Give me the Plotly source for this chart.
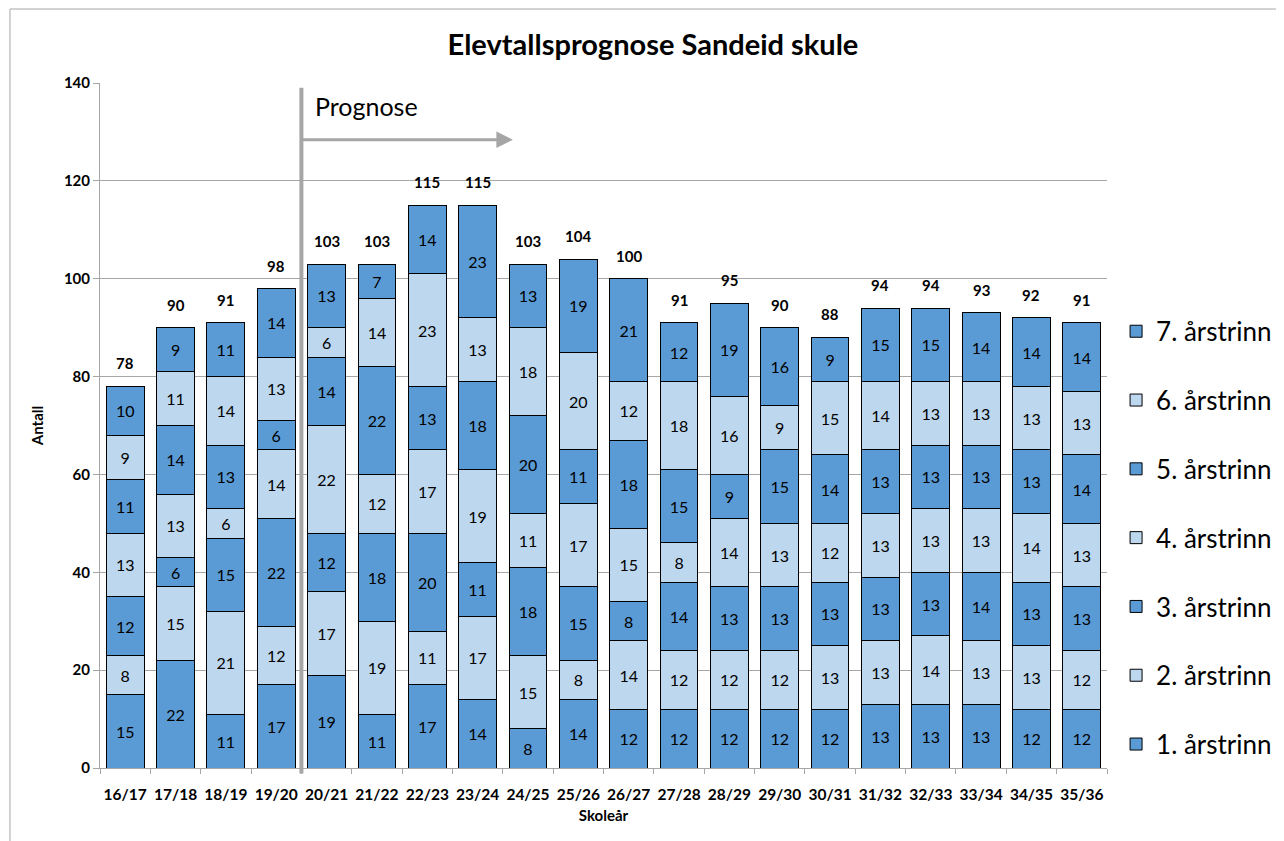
import plotly.graph_objects as go

categories = ["16/17", "17/18", "18/19", "19/20", "20/21", "21/22", "22/23", "23/24", "24/25", "25/26",
              "26/27", "27/28", "28/29", "29/30", "30/31", "31/32", "32/33", "33/34", "34/35", "35/36"]

trinn1 = [15, 22, 11, 17, 19, 11, 17, 14, 8, 14, 12, 12, 12, 12, 12, 13, 13, 13, 12, 12]
trinn2 = [8, 15, 21, 12, 17, 19, 11, 17, 15, 8, 14, 12, 12, 12, 13, 13, 14, 13, 13, 12]
trinn3 = [12, 6, 15, 22, 12, 18, 20, 11, 18, 15, 8, 14, 13, 13, 13, 13, 13, 14, 13, 13]
trinn4 = [13, 13, 6, 14, 22, 12, 17, 19, 11, 17, 15, 8, 14, 13, 12, 13, 13, 13, 14, 13]
trinn5 = [11, 14, 13, 6, 14, 22, 13, 18, 20, 11, 18, 15, 9, 15, 14, 13, 13, 13, 13, 14]
trinn6 = [9, 11, 14, 13, 6, 14, 23, 13, 18, 20, 12, 18, 16, 9, 15, 14, 13, 13, 13, 13]
trinn7 = [10, 9, 11, 14, 13, 7, 14, 23, 13, 19, 21, 12, 19, 16, 9, 15, 15, 14, 14, 14]
totals = [78, 90, 91, 98, 103, 103, 115, 115, 103, 104, 100, 91, 95, 90, 88, 94, 94, 93, 92, 91]

series = [
    ("1. årstrinn", trinn1),
    ("2. årstrinn", trinn2),
    ("3. årstrinn", trinn3),
    ("4. årstrinn", trinn4),
    ("5. årstrinn", trinn5),
    ("6. årstrinn", trinn6),
    ("7. årstrinn", trinn7),
]

DARK = "#5B9BD5"
LIGHT = "#BDD7EE"
GRAY = "#A6A6A6"
FONT = "Lato, 'Open Sans', sans-serif"

fig = go.Figure()
for i, (name, vals) in enumerate(series):
    fig.add_trace(go.Bar(
        x=categories, y=vals, name=name,
        marker=dict(color=DARK if i % 2 == 0 else LIGHT, line=dict(color="black", width=1)),
        text=vals, textposition="inside", insidetextanchor="middle", textangle=0,
        textfont=dict(family=FONT, size=16, color="black"),
        legendgroup=name, legendrank=len(series) - i,
    ))

for c, t in zip(categories, totals):
    fig.add_annotation(x=c, y=t, xref="x", yref="y", text=f"<b>{t}</b>", showarrow=False,
                       yanchor="bottom", yshift=12,
                       font=dict(family=FONT, size=15, color="black"))

fig.update_layout(
    width=1284, height=841,
    barmode="stack", bargap=0.25,
    paper_bgcolor="white", plot_bgcolor="white",
    margin=dict(l=92, r=185, t=75, b=81),
    title=dict(text="<b>Elevtallsprognose Sandeid skule</b>", x=0.5023, xanchor="center",
               y=0.956, yanchor="middle", font=dict(family=FONT, size=29, color="black")),
    legend=dict(traceorder="grouped", tracegroupgap=32, x=1.009, xanchor="left",
                y=0.336, yanchor="middle", font=dict(family=FONT, size=26, color="black"),
                itemwidth=30, bgcolor="rgba(0,0,0,0)"),
    xaxis=dict(showline=True, linecolor=GRAY, linewidth=1, ticks="outside", tickcolor=GRAY,
               ticklen=5, tickson="boundaries", tickangle=0, ticklabelstandoff=12,
               tickfont=dict(family=FONT, size=15.5, color="black", weight="bold"),
               title=dict(text="<b>Skoleår</b>", font=dict(family=FONT, size=15, color="black"), standoff=8)),
    yaxis=dict(range=[0, 140], dtick=20, showgrid=True, gridcolor=GRAY, gridwidth=1,
               showline=True, linecolor=GRAY, linewidth=1, ticks="outside", tickcolor=GRAY,
               ticklen=6, zeroline=False,
               tickfont=dict(family=FONT, size=15, color="black", weight="bold"),
               title=dict(text="<b>Antall</b>", font=dict(family=FONT, size=15, color="black"), standoff=16)),
)

# Prognose separator and arrow
fig.add_shape(type="line", xref="x", yref="paper", x0=3.5, x1=3.5, y0=-0.008, y1=0.993,
              line=dict(color=GRAY, width=4))
fig.add_annotation(x=7.7, y=128.4, ax=3.5, ay=128.4, xref="x", yref="y", axref="x", ayref="y",
                   showarrow=True, arrowhead=2, arrowsize=1.1, arrowwidth=3, arrowcolor=GRAY, text="")
fig.add_annotation(x=3.74, y=135.2, xref="x", yref="y", text="Prognose", showarrow=False,
                   xanchor="left", yanchor="middle", font=dict(family=FONT, size=25, color="black"))

# Chart border
fig.add_shape(type="line", xref="paper", yref="paper", x0=-0.0894, x1=-0.0894, y0=-0.15, y1=1.108,
              line=dict(color=GRAY, width=1))
fig.add_shape(type="line", xref="paper", yref="paper", x0=-0.0894, x1=1.2, y0=1.108, y1=1.108,
              line=dict(color=GRAY, width=1))

fig.write_html("out.html")
